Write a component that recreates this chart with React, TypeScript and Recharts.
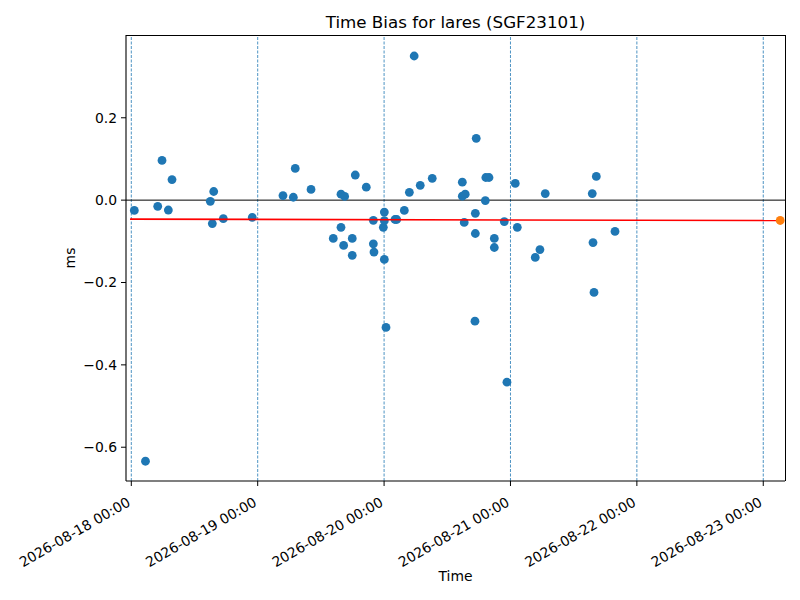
import {
  ComposedChart, Scatter, XAxis, YAxis, ReferenceLine,
} from "recharts";

// days since 2026-08-18 00:00
const biasDays = [
  0.024, 0.112, 0.209, 0.243, 0.293, 0.322, 0.625, 0.641, 0.652, 0.728,
  0.957, 1.200, 1.282, 1.297, 1.422, 1.598, 1.659, 1.659, 1.680, 1.688,
  1.748, 1.748, 1.772, 1.859, 1.915, 1.915, 1.920, 1.994, 2.002, 2.002,
  2.002, 2.015, 2.086, 2.100, 2.160, 2.200, 2.238, 2.286, 2.381, 2.619,
  2.619, 2.634, 2.642, 2.719, 2.722, 2.722, 2.729, 2.801, 2.805, 2.830,
  2.872, 2.872, 2.951, 2.972, 3.038, 3.054, 3.196, 3.233, 3.275, 3.647,
  3.653, 3.661, 3.679, 3.827,
];
const biasMs = [
  -0.025, -0.634, -0.015, 0.0965, -0.024, 0.050, -0.003, -0.057, 0.021, -0.045,
  -0.042, 0.011, 0.007, 0.077, 0.026, -0.093, 0.0146, -0.066, -0.110, 0.009,
  -0.093, -0.134, 0.061, 0.0316, -0.049, -0.106, -0.126, -0.066, -0.029, -0.050,
  -0.144, -0.309, -0.047, -0.047, -0.025, 0.019, 0.350, 0.036, 0.053, 0.0437,
  0.0097, -0.054, 0.0146, -0.294, -0.032, -0.081, 0.150, -0.001, 0.055, 0.055,
  -0.093, -0.115, -0.052, -0.442, 0.0405, -0.066, -0.139, -0.120, 0.016, 0.016,
  -0.103, -0.224, 0.0576, -0.076,
];
const trendDays = [-0.01, 5.134];
const trendMs = [-0.0462, -0.0494];
const predictDays = [5.134];
const predictMs = [-0.0494];

const dayTicks = [0, 1, 2, 3, 4, 5];
const dayLabels = [
  "2026-08-18 00:00", "2026-08-19 00:00", "2026-08-20 00:00",
  "2026-08-21 00:00", "2026-08-22 00:00", "2026-08-23 00:00",
];
const msTicks = [-0.6, -0.4, -0.2, 0, 0.2];

const FONT = "DejaVu Sans, sans-serif";

const biasData = biasDays.map((d, i) => ({ x: d, y: biasMs[i] }));
const trendData = trendDays.map((d, i) => ({ x: d, y: trendMs[i] }));
const predictData = predictDays.map((d, i) => ({ x: d, y: predictMs[i] }));

function DateTick(props: any) {
  const { x, payload } = props;
  const label = dayLabels[dayTicks.indexOf(payload.value)] ?? "";
  return (
    <text
      transform={`translate(${x},${505}) rotate(-30)`}
      textAnchor="end"
      fontSize={13.9}
      fontFamily={FONT}
      fill="#000"
    >
      {label}
    </text>
  );
}

const fmtMs = (v: number) => v.toFixed(1).replace("-", "\u2212");

export default function App() {
  return (
    <div style={{ position: "absolute", left: 0, top: 0, width: 800, height: 600, background: "#fff" }}>
      <ComposedChart
        width={800}
        height={600}
        margin={{ top: 35, right: 15, left: 0, bottom: 0 }}
      >
        <XAxis
          dataKey="x"
          type="number"
          domain={[-0.042, 5.172]}
          ticks={dayTicks}
          allowDataOverflow
          height={119}
          tick={<DateTick />}
          tickSize={5}
          axisLine={{ stroke: "#000", strokeWidth: 1.1 }}
          tickLine={{ stroke: "#000" }}
          interval={0}
        />
        <YAxis
          dataKey="y"
          type="number"
          domain={[-0.682, 0.401]}
          ticks={msTicks}
          allowDataOverflow
          width={126}
          tickSize={5}
          tickMargin={4}
          tickFormatter={fmtMs}
          tick={{ fontSize: 13.9, fontFamily: FONT, fill: "#000" }}
          axisLine={{ stroke: "#000", strokeWidth: 1.1 }}
          tickLine={{ stroke: "#000" }}
          interval={0}
        />
        {dayTicks.map((d) => (
          <ReferenceLine
            key={d}
            x={d}
            stroke="#1f77b4"
            strokeWidth={0.8}
            strokeDasharray="3 1.5"
          />
        ))}
        <ReferenceLine y={0} stroke="#000" strokeWidth={1} />
        <Scatter
          data={biasData}
          isAnimationActive={false}
          shape={(p: any) => <circle cx={p.cx} cy={p.cy} r={4.4} fill="#1f77b4" />}
        />
        <Scatter
          data={trendData}
          isAnimationActive={false}
          line={{ stroke: "#ff0000", strokeWidth: 1.6 }}
          shape={() => <g />}
        />
        <Scatter
          data={predictData}
          isAnimationActive={false}
          shape={(p: any) => <circle cx={p.cx} cy={p.cy} r={4.4} fill="#ff7f0e" />}
        />
      </ComposedChart>
      {/* top and right spines */}
      <div style={{ position: "absolute", left: 126, top: 35, width: 659, height: 0, borderTop: "1.1px solid #000" }} />
      <div style={{ position: "absolute", left: 784.5, top: 35, width: 0, height: 446, borderLeft: "1.1px solid #000" }} />
      <div style={{ position: "absolute", left: 126, width: 659, top: 12, textAlign: "center", fontFamily: FONT, fontSize: 16.7, color: "#000", lineHeight: "20px" }}>
        Time Bias for lares (SGF23101)
      </div>
      <div style={{ position: "absolute", left: 126, width: 659, top: 568, textAlign: "center", fontFamily: FONT, fontSize: 13.9, color: "#000", lineHeight: "17px" }}>
        Time
      </div>
      <div style={{ position: "absolute", left: 70, top: 258, transform: "translate(-50%,-50%) rotate(-90deg)", fontFamily: FONT, fontSize: 13.9, color: "#000", lineHeight: "17px" }}>
        ms
      </div>
    </div>
  );
}
